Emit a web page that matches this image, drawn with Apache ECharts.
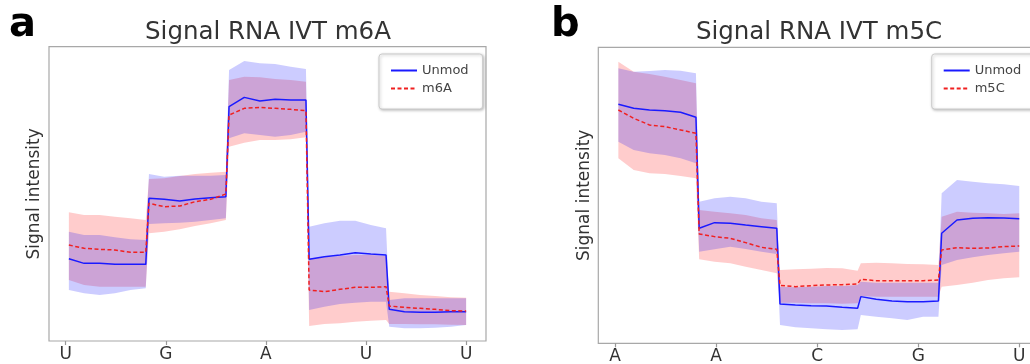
<!DOCTYPE html>
<html><head><meta charset="utf-8">
<script src="https://cdn.jsdelivr.net/npm/echarts@6/dist/echarts.min.js"></script>
<style>html,body{margin:0;padding:0;background:#fff}#c{width:1030px;height:364px}</style>
</head><body><div id="c"></div>
<script>
// sample positions inside each base segment (data units; ticks every 25)
const samplePos = [0.8, 4.6, 8.5, 12.3, 16.2, 20];
const tickValues = [0, 25, 50, 75, 100];
const aTickLabels = ['U', 'G', 'A', 'U', 'U'];
const bTickLabels = ['A', 'A', 'C', 'G', 'U'];

// Panel a: Signal RNA IVT m6A
const aUnmodMean  = [247,233,233,230,230,230, 428,425,420,426,430,433, 703,731,720,725,723,723, 245,253,258,265,261,258, 95,88,86,86,88,88];
const aUnmodUpper = [328,318,318,311,305,303, 501,493,496,496,496,498, 813,840,833,831,823,816, 343,353,361,361,348,338, 123,128,128,128,128,128];
const aUnmodLower = [153,143,138,143,153,158, 351,353,355,358,363,368, 608,623,618,613,618,628, 93,103,111,115,118,118, 43,38,38,40,43,48];
const aModMean    = [288,278,275,273,266,266, 413,403,405,418,425,441, 678,698,701,698,695,691, 153,148,155,161,161,163, 105,101,98,95,91,90];
const aModUpper   = [386,378,378,373,368,363, 486,488,495,501,505,508, 783,793,791,786,783,778, 248,251,255,258,258,255, 148,143,138,135,131,130];
const aModLower   = [183,168,163,163,163,163, 323,328,335,345,353,363, 583,595,603,603,605,611, 45,51,53,58,61,63, 51,51,50,50,49,48];

// Panel b: Signal RNA IVT m5C
const bUnmodMean  = [717,705,700,698,693,678, 345,362,360,355,350,345, 118,115,113,112,108,105, 140,132,127,125,125,127, 330,370,375,377,376,374];
const bUnmodUpper = [825,815,817,820,818,810, 425,435,440,435,425,420, 170,168,170,172,172,175, 185,182,182,182,182,182, 450,490,485,480,477,472];
const bUnmodLower = [605,580,570,565,555,540, 275,282,290,283,275,268, 55,48,45,42,40,42, 85,80,75,70,80,80, 235,250,258,265,270,275];
const bModMean    = [700,675,655,650,640,630, 328,320,315,302,288,282, 174,170,173,175,176,178, 192,188,188,188,188,190, 280,287,285,286,290,292];
const bModUpper   = [845,815,808,800,790,780, 400,395,390,385,375,370, 220,222,224,226,225,218, 240,242,240,238,237,235, 380,395,392,390,388,390];
const bModLower   = [555,520,510,508,502,495, 252,245,240,230,220,210, 122,122,120,120,119,120, 142,140,140,140,140,140, 170,175,182,190,195,198];

const FONT = 'DejaVu Sans';
const BLUE = '#1a1aff', RED = '#f02020';
const BLUE_FILL = 'rgba(0,0,255,0.2)', RED_FILL = 'rgba(255,0,0,0.2)';

const xs = [];
for (let s = 0; s < 5; s++) for (const p of samplePos) xs.push(s * 20 + p);
const pairs = vals => vals.map((v, i) => [xs[i], v]);

function band(name, upper, lower, color, gi) {
  return {
    type: 'custom', name: name, xAxisIndex: gi, yAxisIndex: gi, silent: true, z: 1,
    data: upper.map((u, i) => [xs[i], lower[i], u]),
    encode: { x: 0, y: [1, 2] },
    renderItem: function (params, api) {
      if (params.dataIndex !== 0) return null;
      const pts = [];
      for (let i = 0; i < upper.length; i++) pts.push(api.coord([xs[i], upper[i]]));
      for (let i = upper.length - 1; i >= 0; i--) pts.push(api.coord([xs[i], lower[i]]));
      return { type: 'polygon', shape: { points: pts }, style: { fill: color } };
    }
  };
}
function line(name, vals, color, dashed, gi) {
  return {
    type: 'line', name: name, xAxisIndex: gi, yAxisIndex: gi, data: pairs(vals),
    symbol: 'none', showSymbol: false, silent: true, z: 3,
    lineStyle: { color: color, width: 1.5, type: dashed ? [4, 2.5] : 'solid' },
    itemStyle: { color: color }
  };
}
function xAxis(gi, labels) {
  return {
    type: 'value', gridIndex: gi, min: -4.16, max: 104.96,
    axisLine: { show: false }, splitLine: { show: false },
    axisTick: { show: true, customValues: tickValues, length: 4, lineStyle: { color: '#999', width: 1.2 } },
    axisLabel: { customValues: tickValues, margin: 5, fontSize: 17, color: '#333', fontFamily: FONT,
      formatter: v => labels[tickValues.indexOf(Math.round(v))] }
  };
}
function yAxis(gi, max, gap) {
  return {
    type: 'value', gridIndex: gi, min: 0, max: max,
    axisLine: { show: false }, axisTick: { show: false }, axisLabel: { show: false }, splitLine: { show: false },
    name: 'Signal intensity', nameLocation: 'middle', nameGap: gap,
    nameTextStyle: { fontSize: 17, color: '#333', fontFamily: FONT }
  };
}
function legend(left, names) {
  return {
    data: names, orient: 'vertical', left: left, top: 54, selectedMode: false,
    itemWidth: 26, itemHeight: 12, itemGap: 5, padding: [10, 14, 14, 11],
    itemStyle: { color: 'transparent', borderWidth: 0, opacity: 0 },
    backgroundColor: '#fff', borderColor: '#cccccc', borderWidth: 1, borderRadius: 3,
    shadowBlur: 3, shadowColor: 'rgba(0,0,0,0.25)', shadowOffsetX: 1, shadowOffsetY: 1,
    textStyle: { fontSize: 13, color: '#444', fontFamily: FONT }
  };
}
function txt(x, y, text, size, weight, color, align) {
  return { type: 'text', x: x, y: y, silent: true,
    style: { text: text, font: weight + ' ' + size + 'px "' + FONT + '"', fill: color,
      textAlign: align, align: align, textVerticalAlign: 'top', verticalAlign: 'top' } };
}

const chart = echarts.init(document.getElementById('c'), null, { renderer: 'canvas' });
chart.setOption({
  animation: false,
  backgroundColor: '#fff',
  grid: [
    { left: 49, top: 46.7, width: 437, height: 294.3, show: true, borderColor: '#a8a8a8', borderWidth: 1.2, backgroundColor: 'transparent', outerBoundsMode: 'none', containLabel: false },
    { left: 598.3, top: 47.3, width: 441, height: 296, show: true, borderColor: '#a8a8a8', borderWidth: 1.2, backgroundColor: 'transparent', outerBoundsMode: 'none', containLabel: false }
  ],
  xAxis: [xAxis(0, aTickLabels), xAxis(1, bTickLabels)],
  yAxis: [yAxis(0, 883, 6), yAxis(1, 888, 5)],
  legend: [legend(379, ['Unmod', 'm6A']), legend(931.7, ['Unmod', 'm5C'])],
  graphic: [
    txt(9, 6, 'a', 40, 'bold', '#000', 'left'),
    txt(551, 6, 'b', 40, 'bold', '#000', 'left'),
    txt(268, 20, 'Signal RNA IVT m6A', 24.5, 'normal', '#333', 'center'),
    txt(819, 20, 'Signal RNA IVT m5C', 24.5, 'normal', '#333', 'center')
  ],
  series: [
    band('m6A band', aModUpper, aModLower, RED_FILL, 0),
    band('Unmod band a', aUnmodUpper, aUnmodLower, BLUE_FILL, 0),
    line('Unmod', aUnmodMean, BLUE, false, 0),
    line('m6A', aModMean, RED, true, 0),
    band('m5C band', bModUpper, bModLower, RED_FILL, 1),
    band('Unmod band b', bUnmodUpper, bUnmodLower, BLUE_FILL, 1),
    line('Unmod', bUnmodMean, BLUE, false, 1),
    line('m5C', bModMean, RED, true, 1)
  ]
});
</script></body></html>
